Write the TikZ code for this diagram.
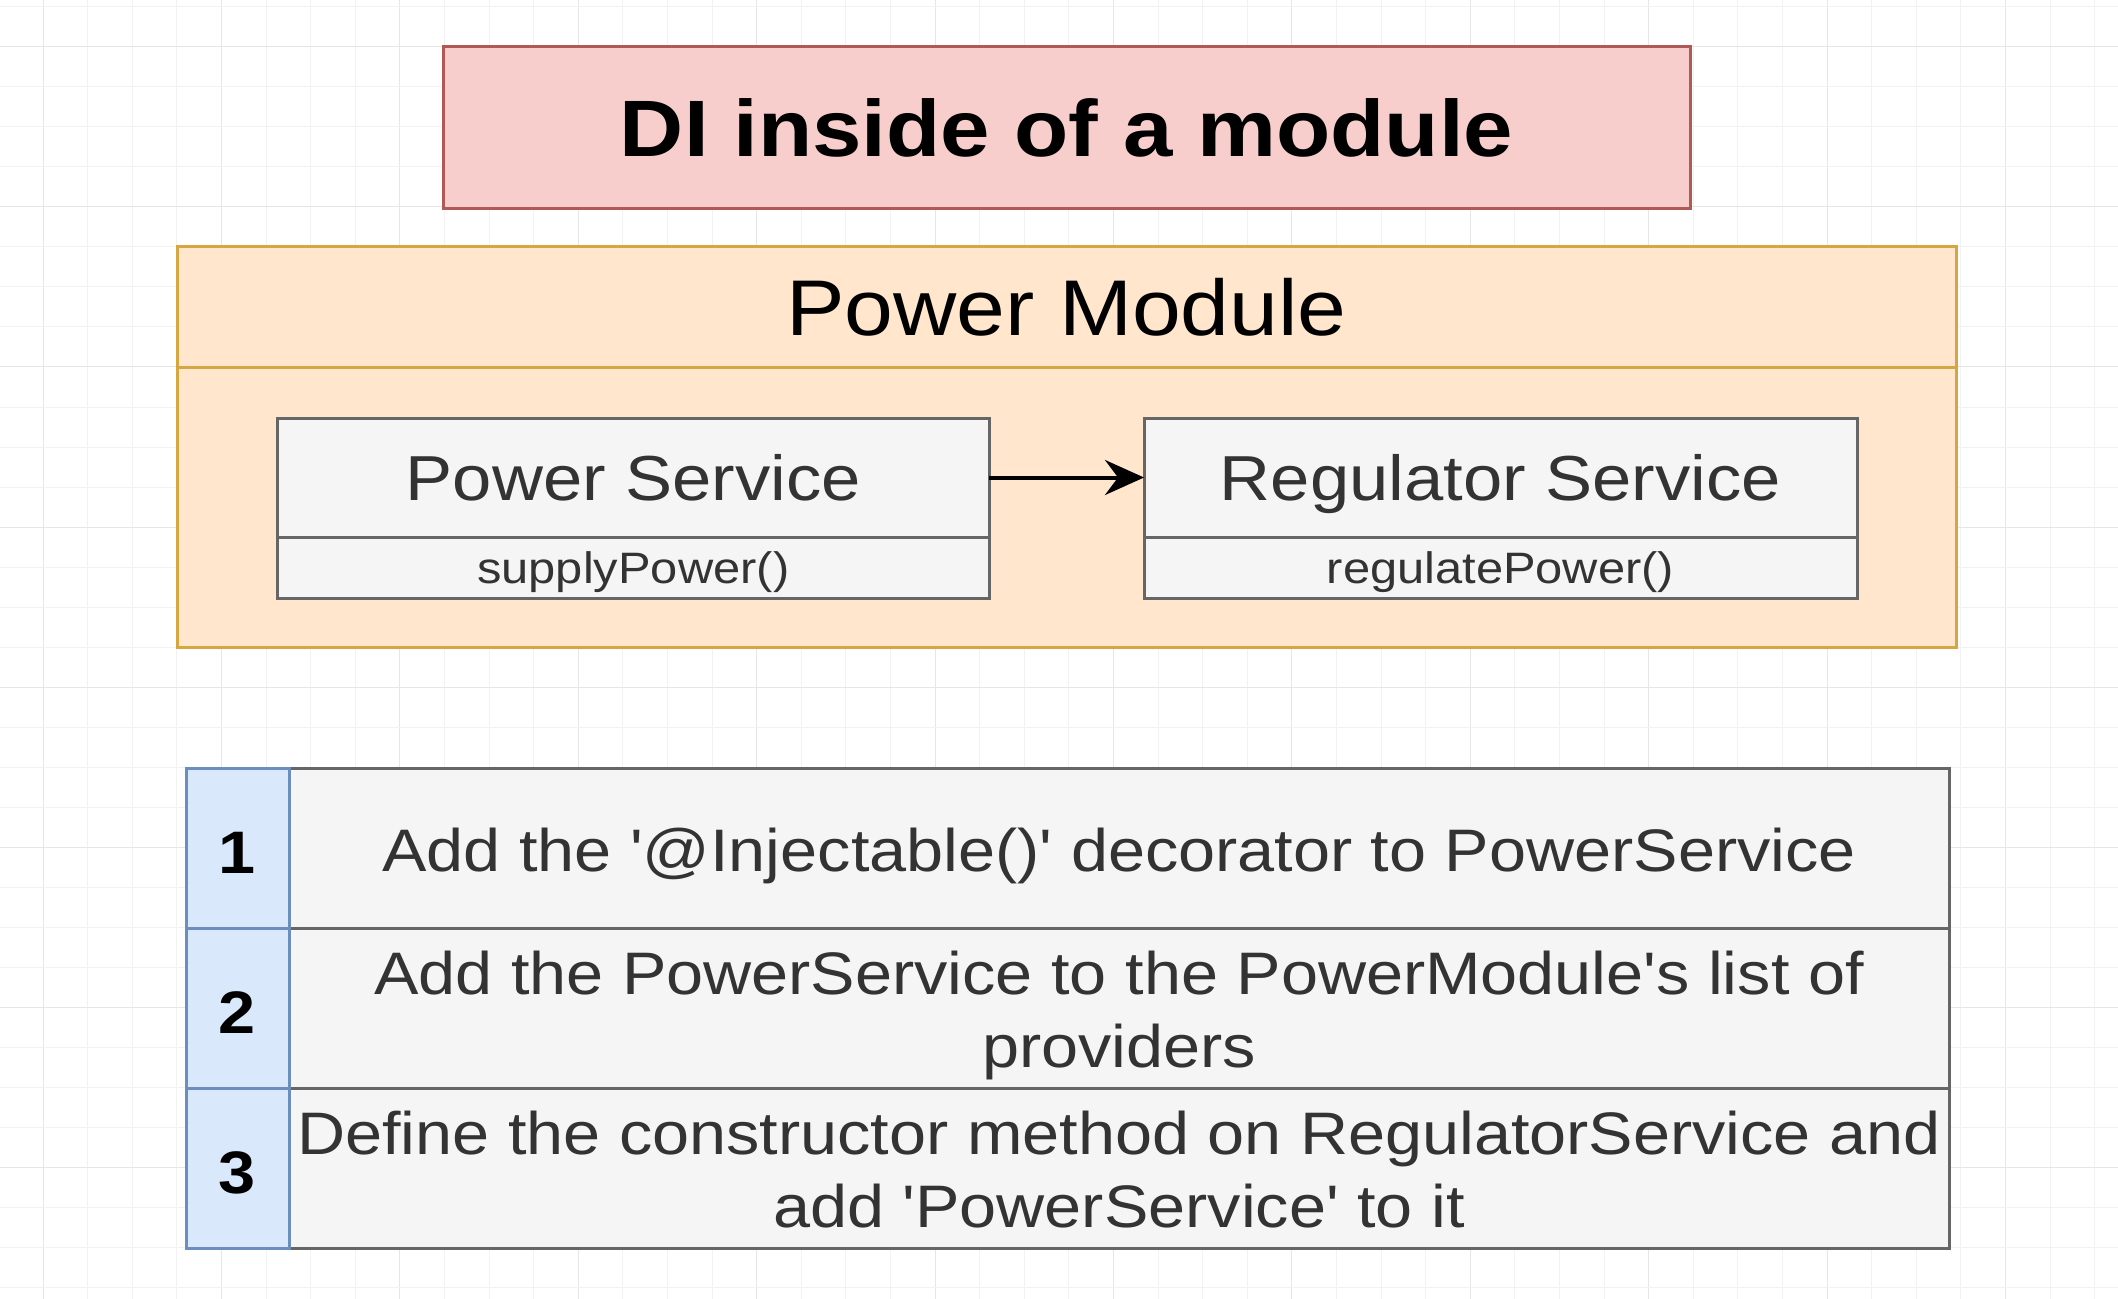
\documentclass[tikz,border=0pt]{standalone}
\usepackage{fontspec}
\setmainfont{Liberation Sans}[FakeStretch=1.11, Ligatures=TeXOff]
\usetikzlibrary{arrows.meta}
\definecolor{titlefill}{HTML}{F8CECC}
\definecolor{titledraw}{HTML}{B05A57}
\definecolor{modfill}{HTML}{FFE6CC}
\definecolor{moddraw}{HTML}{D6A640}
\definecolor{svcfill}{HTML}{F5F5F5}
\definecolor{svcdraw}{HTML}{666666}
\definecolor{svctext}{HTML}{333333}
\definecolor{numfill}{HTML}{DAE8FC}
\definecolor{numdraw}{HTML}{6C8EBF}
\definecolor{gridminor}{HTML}{F2F2F2}
\definecolor{gridmajor}{HTML}{E6E6E6}
\begin{document}
\begin{tikzpicture}[x=0.5pt,y=-0.5pt,
  box/.style={rectangle, outer sep=0pt, inner sep=0pt, line width=1.5pt},
  titlebox/.style={box, fill=titlefill, draw=titledraw, text=black, font=\fontsize{40}{48}\selectfont\bfseries, text height=36pt, text depth=7.36pt},
  modbox/.style={box, fill=modfill, draw=moddraw, text=black, font=\fontsize{39.5}{47}\selectfont, text height=35.5pt, text depth=7.22pt},
  svc/.style={box, fill=svcfill, draw=svcdraw, text=svctext, font=\fontsize{31.8}{38}\selectfont, text height=29pt, text depth=6.23pt},
  svcm/.style={box, fill=svcfill, draw=svcdraw, text=svctext, font=\fontsize{22}{26}\selectfont, text height=20pt, text depth=4.25pt},
  num/.style={box, fill=numfill, draw=numdraw, text=black, font=\fontsize{30}{36}\selectfont\bfseries, text height=31pt, text depth=5.5pt},
  cell/.style={box, fill=svcfill, draw=svcdraw, text=svctext, align=center, font=\fontsize{30}{36.5}\selectfont},
  oneline/.style={text height=29pt, text depth=5.52pt},
  twoline/.style={text height=65.5pt, text depth=5.52pt},
  conn/.style={line width=2pt, draw=black, -{Stealth[length=19.5pt, width=17.5pt, inset=6.5pt]}}
]
\useasboundingbox (0,0) rectangle (2118,1299);
\fill[white] (0,0) rectangle (2118,1299);
% background grid
\foreach \k in {0,...,47}{
  \pgfmathtruncatemacro{\m}{mod(\k,4)}
  \ifnum\m=0
    \draw[gridmajor, line width=0.5pt] ({43+44.6*\k},0) -- ({43+44.6*\k},1299);
  \else
    \draw[gridminor, line width=0.5pt] ({43+44.6*\k},0) -- ({43+44.6*\k},1299);
  \fi
}
\foreach \k in {0,...,32}{
  \pgfmathtruncatemacro{\m}{mod(\k,4)}
  \ifnum\m=1
    \draw[gridmajor, line width=0.5pt] (0,{7+40*\k}) -- (2118,{7+40*\k});
  \else
    \draw[gridminor, line width=0.5pt] (0,{7+40*\k}) -- (2118,{7+40*\k});
  \fi
}
% title
\node[titlebox, minimum width=623.5pt, minimum height=81pt] (title) at (1066.5,128) {DI inside of a module};
% module
\node[modbox, minimum width=889.5pt, minimum height=60.5pt] (modhead) at (1066.5,307.5) {Power Module};
\node[modbox, minimum width=889.5pt, minimum height=139.5pt] (modbody) at (1066.5,507.5) {};
% services
\node[svc, minimum width=355.75pt, minimum height=59.5pt] (ps) at (633.25,477.5) {Power Service};
\node[svcm, minimum width=355.75pt, minimum height=30.5pt] (psm) at (633.25,567.5) {supplyPower()};
\node[svc, minimum width=356.5pt, minimum height=59.5pt] (rs) at (1500.5,477.5) {Regulator Service};
\node[svcm, minimum width=356.5pt, minimum height=30.5pt] (rsm) at (1500.5,567.5) {regulatePower()};
\draw[conn] (ps.east) -- (rs.west);
% table
\node[cell, oneline, minimum width=830pt, minimum height=80pt] (t1) at (1119,848) {Add the '@Injectable()' decorator to PowerService};
\node[cell, twoline, minimum width=830pt, minimum height=80pt] (t2) at (1119,1008) {Add the PowerService to the PowerModule's list of\\providers};
\node[cell, twoline, minimum width=830pt, minimum height=80pt] (t3) at (1119,1168) {Define the constructor method on RegulatorService and\\add 'PowerService' to it};
\node[num, minimum width=51.5pt, minimum height=80pt] (n1) at (237.5,848) {1};
\node[num, minimum width=51.5pt, minimum height=80pt] (n2) at (237.5,1008) {2};
\node[num, minimum width=51.5pt, minimum height=80pt] (n3) at (237.5,1168) {3};
\end{tikzpicture}
\end{document}
